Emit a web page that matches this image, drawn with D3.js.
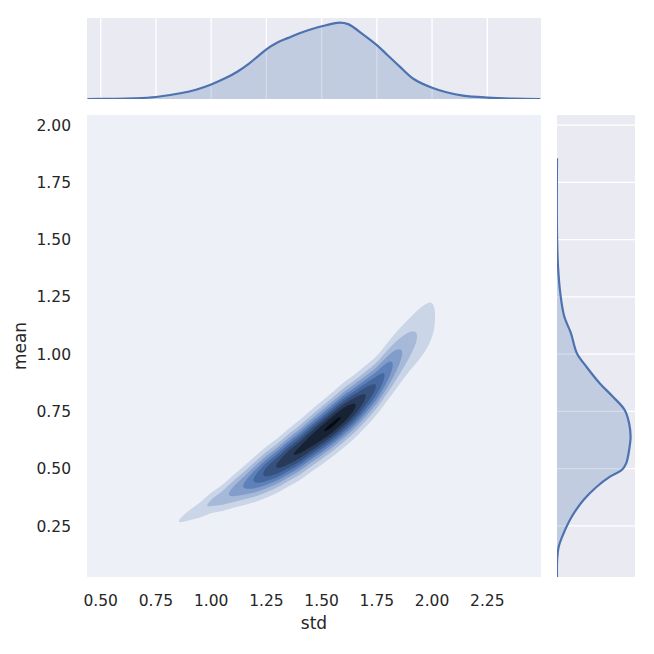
<!DOCTYPE html>
<html><head><meta charset="utf-8">
<script src="https://cdn.jsdelivr.net/npm/d3@7"></script>
<style>
body{margin:0;background:#fff;}
svg{display:block;}
text{font-family:"DejaVu Sans",sans-serif;fill:#262626;}
</style>
</head><body>
<svg id="chart" width="654" height="654"></svg>
<script>
// ---------------- data ----------------
const xTicks = [0.50, 0.75, 1.00, 1.25, 1.50, 1.75, 2.00, 2.25];
const yTicks = [0.25, 0.50, 0.75, 1.00, 1.25, 1.50, 1.75, 2.00];
const xLabel = "std";
const yLabel = "mean";

// joint density ridge: for each std,
// the mean at the ridge crest, the crest density (in contour-level units) and the spread in mean
const ridgeStd    = [0.80,0.85,0.90,0.95,1.00,1.05,1.10,1.15,1.20,1.25,1.30,1.35,1.40,1.45,1.50,1.55,1.60,1.65,1.70,1.75,1.80,1.85,1.90,1.95,2.00,2.05,2.10];
const ridgeMean   = [0.245,0.269,0.296,0.320,0.350,0.372,0.400,0.427,0.455,0.485,0.514,0.548,0.581,0.619,0.656,0.694,0.734,0.773,0.817,0.865,0.926,0.987,1.044,1.096,1.149,1.206,1.260];
const ridgePeak   = [0.5,0.97,1.4,1.75,2.15,2.6,3.3,4.1,5.2,6.3,7.1,7.8,8.2,8.6,8.95,9.1,8.9,8.1,7.0,5.9,4.6,3.3,2.4,1.8,1.25,0.3,0.0];
const ridgeSpread = [0.020,0.022,0.026,0.031,0.036,0.041,0.046,0.051,0.055,0.058,0.060,0.062,0.064,0.065,0.066,0.067,0.068,0.068,0.068,0.068,0.072,0.079,0.087,0.100,0.109,0.109,0.109];
const contourLevels = [1,2,3,4,5,6,7,8,9];
const nLayers = 10;

// marginal densities (relative to peak)
const stdGrid  = [0.44,0.55,0.65,0.75,0.86,0.935,1.00,1.07,1.12,1.17,1.21,1.25,1.30,1.35,1.40,1.46,1.52,1.58,1.62,1.69,1.75,1.80,1.855,1.915,2.00,2.065,2.14,2.25,2.37,2.49];
const stdDens  = [0.0,0.002,0.008,0.026,0.075,0.125,0.19,0.28,0.36,0.46,0.555,0.65,0.74,0.80,0.86,0.92,0.965,1.0,0.98,0.84,0.705,0.57,0.42,0.265,0.146,0.088,0.044,0.018,0.004,0.0];
const meanGrid = [0.027,0.102,0.160,0.218,0.290,0.363,0.421,0.465,0.494,0.523,0.581,0.639,0.698,0.756,0.814,0.873,0.945,1.004,1.091,1.163,1.265,1.382,1.527,1.855];
const meanDens = [0.0,0.002,0.024,0.09,0.20,0.36,0.54,0.72,0.88,0.94,0.98,1.0,0.98,0.92,0.76,0.58,0.40,0.27,0.19,0.10,0.045,0.014,0.0,0.0];

// ---------------- layout ----------------
const main = {x:87, y:115, w:454, h:462};
const top_ = {x:87, y:18, w:454, h:81};
const right = {x:557, y:115, w:78, h:462};
const lineColor = "#4c72b0";
const panelBg = "#eaeaf2";

const svg = d3.select("#chart");
const defs = svg.append("defs");
defs.append("clipPath").attr("id","clipTop").append("rect").attr("width", top_.w).attr("height", top_.h);
defs.append("clipPath").attr("id","clipRight").append("rect").attr("width", right.w).attr("height", right.h);

const x = d3.scaleLinear().domain([0.438, 2.493]).range([0, main.w]);
const y = d3.scaleLinear().domain([0.027, 2.044]).range([main.h, 0]);

// colormap as in seaborn: HLS lightness from 1 to 0 at the hue of the line colour
const base = d3.hsl(lineColor);
const stops = d3.range(12).map(i => d3.hsl(base.h, base.s, 1 - i/11).rgb().toString());
const cmap = d3.piecewise(d3.interpolateRgb, stops);
const layerColor = k => cmap((k + 0.5) / nLayers);

// ---------------- joint KDE contours ----------------
function interp(arr, s) {
  const n = ridgeStd.length, step = ridgeStd[1] - ridgeStd[0];
  const t = (s - ridgeStd[0]) / step;
  if (t < 0 || t > n - 1) return null;
  const i = Math.min(Math.floor(t), n - 2), f = t - i;
  const p0 = arr[Math.max(i-1,0)], p1 = arr[i], p2 = arr[i+1], p3 = arr[Math.min(i+2,n-1)];
  return 0.5*((2*p1) + (-p0+p2)*f + (2*p0-5*p1+4*p2-p3)*f*f + (-p0+3*p1-3*p2+p3)*f*f*f);
}
const W = main.w, H = main.h;
const values = new Float64Array(W*H);
for (let i = 0; i < W; i++) {
  const s = x.invert(i + 0.5);
  const a = interp(ridgePeak, s);
  if (a == null || a <= 0) continue;
  const c = interp(ridgeMean, s), w = interp(ridgeSpread, s);
  for (let j = 0; j < H; j++) {
    const m = y.invert(j + 0.5);
    const z = (m - c) / w;
    values[j*W + i] = a * Math.exp(-0.5*z*z);
  }
}
const contours = d3.contours().size([W, H]).thresholds(contourLevels)(values);

const gMain = svg.append("g").attr("transform", `translate(${main.x},${main.y})`);
gMain.append("rect").attr("width", main.w).attr("height", main.h).attr("fill", layerColor(0));
gMain.selectAll("path.c").data(contours).join("path")
  .attr("class","c")
  .attr("d", d3.geoPath())
  .attr("fill", (d,i) => layerColor(i+1));

const smooth = d3.curveCatmullRom.alpha(0.5);

// ---------------- top marginal ----------------
const gTop = svg.append("g").attr("transform", `translate(${top_.x},${top_.y})`);
const yTop = d3.scaleLinear().domain([0, 1.06]).range([top_.h, 0]);
gTop.append("rect").attr("width", top_.w).attr("height", top_.h).attr("fill", panelBg);
gTop.selectAll("line.g").data(xTicks).join("line").attr("class","g")
  .attr("x1", d=>x(d)).attr("x2", d=>x(d)).attr("y1",0).attr("y2",top_.h)
  .attr("stroke","#fff").attr("stroke-width",1.3);
const topData = stdGrid.map((s,i)=>[s, stdDens[i]]);
const gTopC = gTop.append("g").attr("clip-path","url(#clipTop)");
gTopC.append("path").datum(topData)
  .attr("d", d3.area().x(d=>x(d[0])).y0(yTop(0)).y1(d=>yTop(d[1])).curve(smooth))
  .attr("fill", lineColor).attr("fill-opacity", 0.25);
gTopC.append("path").datum(topData)
  .attr("d", d3.line().x(d=>x(d[0])).y(d=>yTop(d[1])).curve(smooth))
  .attr("fill","none").attr("stroke", lineColor).attr("stroke-width", 2.2);

// ---------------- right marginal ----------------
const gR = svg.append("g").attr("transform", `translate(${right.x},${right.y})`);
const xR = d3.scaleLinear().domain([0, 1.06]).range([0, right.w]);
gR.append("rect").attr("width", right.w).attr("height", right.h).attr("fill", panelBg);
gR.selectAll("line.g").data(yTicks).join("line").attr("class","g")
  .attr("y1", d=>y(d)).attr("y2", d=>y(d)).attr("x1",0).attr("x2",right.w)
  .attr("stroke","#fff").attr("stroke-width",1.3);
const rData = meanGrid.map((m,i)=>[m, meanDens[i]]);
const gRC = gR.append("g").attr("clip-path","url(#clipRight)");
gRC.append("path").datum(rData)
  .attr("d", d3.area().y(d=>y(d[0])).x0(xR(0)).x1(d=>xR(d[1])).curve(smooth))
  .attr("fill", lineColor).attr("fill-opacity", 0.25);
gRC.append("path").datum(rData)
  .attr("d", d3.line().y(d=>y(d[0])).x(d=>xR(d[1])).curve(smooth))
  .attr("fill","none").attr("stroke", lineColor).attr("stroke-width", 2.2);

// ---------------- axes text ----------------
const fmt = d3.format(".2f");
svg.append("g").selectAll("text").data(xTicks).join("text")
  .attr("x", d => main.x + x(d)).attr("y", 606)
  .attr("text-anchor","middle").attr("font-size", 15.5).text(fmt);
svg.append("g").selectAll("text").data(yTicks).join("text")
  .attr("x", 71).attr("y", d => main.y + y(d)).attr("dy","0.36em")
  .attr("text-anchor","end").attr("font-size", 15.5).text(fmt);
svg.append("text").attr("x", main.x + main.w/2).attr("y", 629)
  .attr("text-anchor","middle").attr("font-size", 17).text(xLabel);
svg.append("text").attr("transform", `translate(26,${main.y + main.h/2}) rotate(-90)`)
  .attr("text-anchor","middle").attr("font-size", 17).text(yLabel);
</script>
</body></html>
